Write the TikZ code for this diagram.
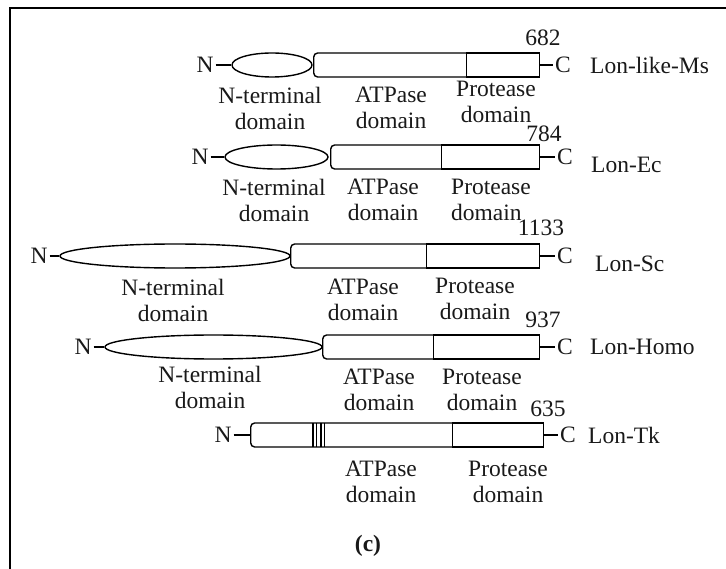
\documentclass[tikz,border=0pt]{standalone}
\usepackage{fontspec}
\setmainfont{Liberation Serif}
\usetikzlibrary{shapes.geometric}
\begin{document}
\begin{tikzpicture}[x=1pt,y=-1pt,
  every node/.style={font=\fontsize{23.5}{26}\selectfont, inner sep=0pt, text=black!90},
  dom/.style={draw, line width=1.4pt, inner sep=0pt, minimum height=24pt},
  ellp/.style={dom, ellipse},
  atp/.style={dom, rectangle, rounded corners=4pt, anchor=west},
  prt/.style={dom, rectangle, fill=white, anchor=west},
  lab/.style={align=center},
  term/.style={inner sep=2pt},
  conn/.style={line width=1.4pt},
  lonname/.style={anchor=west},
  frame/.style={line width=2.5pt}
]
\useasboundingbox (0,0) rectangle (726,569);
\draw[frame] (10,575) -- (10,8) -- (730,8);

% Row 1: Lon-like-Ms
\node[ellp, minimum width=80pt] (e1) at (272,65) {};
\node[atp, minimum width=159pt] (a1) at (313,65) {};
\node[prt, minimum width=73pt] (p1) at (466,65) {};
\node[term] (n1) at (205,65) {N};
\node[term] (c1) at (563,65) {C};
\draw[conn] (n1.east) -- (e1.west);
\draw[conn] (p1.east) -- (c1.west);
\node (m1) at (543,38) {682};
\node[lonname] (s1) at (590,65) {Lon-like-Ms};
\node[lab] (t1a) at (270,108) {N-terminal\\domain};
\node[lab] (t1b) at (391,108) {ATPase\\domain};
\node[lab] (t1c) at (496,102) {Protease\\domain};

% Row 2: Lon-Ec
\node[ellp, minimum width=103pt] (e2) at (276.5,157) {};
\node[atp, minimum width=117pt] (a2) at (330,157) {};
\node[prt, minimum width=98pt] (p2) at (441,157) {};
\node[term] (n2) at (200,157) {N};
\node[term] (c2) at (565,157) {C};
\draw[conn] (n2.east) -- (e2.west);
\draw[conn] (p2.east) -- (c2.west);
\node (m2) at (544,134) {784};
\node[lonname] (s2) at (591,165) {Lon-Ec};
\node[lab] (t2a) at (274,200) {N-terminal\\domain};
\node[lab] (t2b) at (383,200) {ATPase\\domain};
\node[align=left, anchor=west] (t2c) at (451,200) {Protease\\domain};

% Row 3: Lon-Sc
\node[ellp, minimum width=230pt] (e3) at (175,256) {};
\node[atp, minimum width=142pt] (a3) at (290,256) {};
\node[prt, minimum width=113pt] (p3) at (426,256) {};
\node[term] (n3) at (39,256) {N};
\node[term] (c3) at (565,256) {C};
\draw[conn] (n3.east) -- (e3.west);
\draw[conn] (p3.east) -- (c3.west);
\node (m3) at (541,228) {1133};
\node[lonname] (s3) at (595,264) {Lon-Sc};
\node[lab] (t3a) at (173,300) {N-terminal\\domain};
\node[lab] (t3b) at (363,300) {ATPase\\domain};
\node[lab] (t3c) at (475,299) {Protease\\domain};

% Row 4: Lon-Homo
\node[ellp, minimum width=217pt] (e4) at (213.5,347) {};
\node[atp, minimum width=117pt] (a4) at (322,347) {};
\node[prt, minimum width=106pt] (p4) at (433,347) {};
\node[term] (n4) at (83,347) {N};
\node[term] (c4) at (565,347) {C};
\draw[conn] (n4.east) -- (e4.west);
\draw[conn] (p4.east) -- (c4.west);
\node (m4) at (543,320) {937};
\node[lonname] (s4) at (590,347) {Lon-Homo};
\node[lab] (t4a) at (210,387) {N-terminal\\domain};
\node[lab] (t4b) at (379,390) {ATPase\\domain};
\node[lab] (t4c) at (482,390) {Protease\\domain};

% Row 5: Lon-Tk
\node[atp, minimum width=208pt] (a5) at (250,435) {};
\node[prt, minimum width=91pt] (p5) at (452,435) {};
\node[term] (n5) at (223,435) {N};
\node[term] (c5) at (568,435) {C};
\draw[conn] (n5.east) -- (a5.west);
\draw[conn] (p5.east) -- (c5.west);
\foreach \sx in {313,316.5,321,324.5}
  \draw[line width=1.1pt] (\sx,423) -- (\sx,447);
\node (m5) at (548,409) {635};
\node[lonname] (s5) at (588,435) {Lon-Tk};
\node[lab] (t5b) at (381,482) {ATPase\\domain};
\node[lab] (t5c) at (508,482) {Protease\\domain};

\node[font=\fontsize{23.5}{26}\selectfont\bfseries] (cap) at (368,546) {(c)};
\end{tikzpicture}
\end{document}
